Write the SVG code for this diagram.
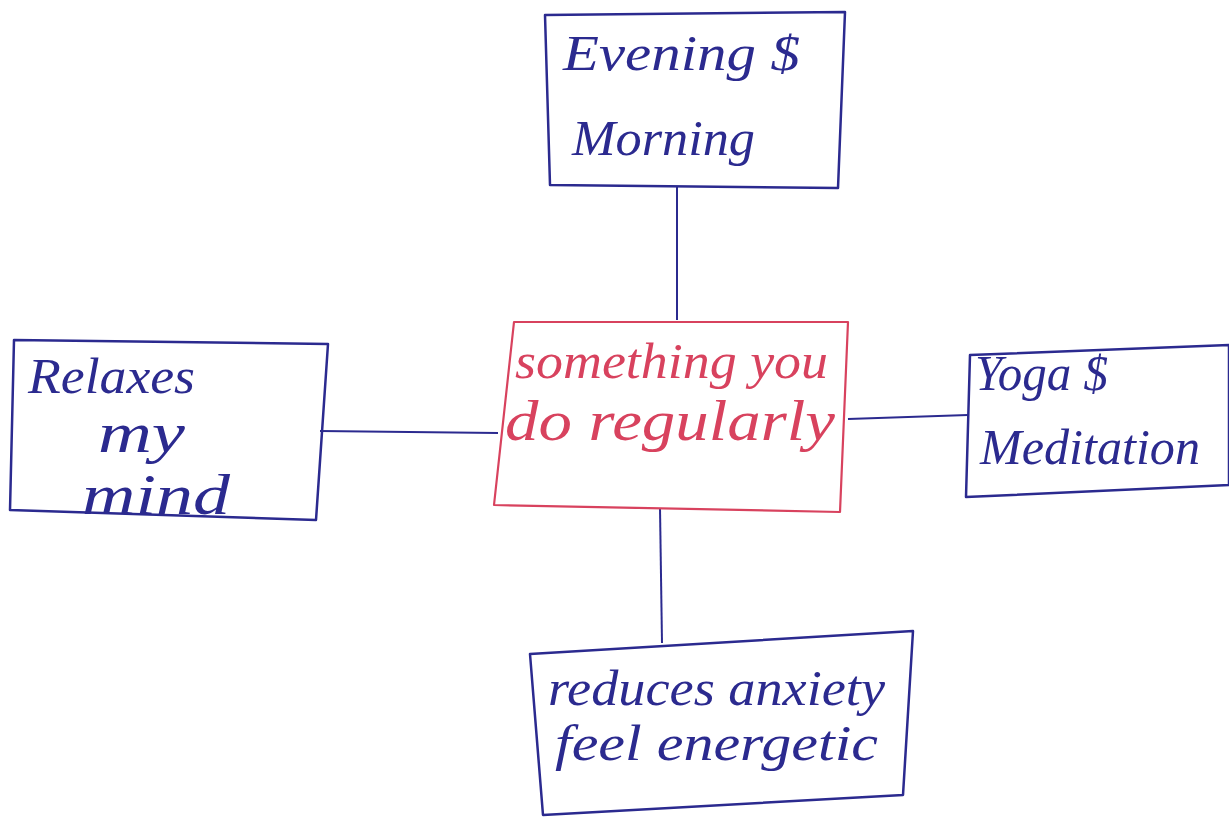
<svg xmlns="http://www.w3.org/2000/svg" width="1229" height="818" viewBox="0 0 1229 818">
<style>
.box{fill:none;stroke:#2b2a8f;stroke-width:2.5;stroke-linejoin:round}
.red{fill:none;stroke:#d8425e;stroke-width:2.2;stroke-linejoin:round}
.con{fill:none;stroke:#2b2a8f;stroke-width:2}
.t{font-family:"Liberation Serif",serif;font-style:italic;font-size:50px;fill:#2b2a8f}
.tr{font-family:"Liberation Serif",serif;font-style:italic;font-size:50px;fill:#d8425e}
.big{font-size:58px}
</style>
<rect width="1229" height="818" fill="#ffffff"/>
<g id="connectors">
<path class="con" d="M677 186 L677 320"/>
<path class="con" d="M320 431 L498 433"/>
<path class="con" d="M848 419 L968 415"/>
<path class="con" d="M660 508 L662 643"/>
</g>
<g id="node-top">
<polygon class="box" points="545,15 845,12 838,188 550,185"/>
<text class="t" x="563" y="70" textLength="237" lengthAdjust="spacingAndGlyphs">Evening $</text>
<text class="t" x="572" y="155" textLength="183" lengthAdjust="spacingAndGlyphs">Morning</text>
</g>
<g id="node-center">
<polygon class="red" points="514,322 848,322 840,512 494,505"/>
<text class="tr" x="515" y="378" textLength="313" lengthAdjust="spacingAndGlyphs">something you</text>
<text class="tr big" x="505" y="440" textLength="330" lengthAdjust="spacingAndGlyphs">do regularly</text>
</g>
<g id="node-left">
<polygon class="box" points="14,340 328,344 316,520 10,510"/>
<text class="t" x="28" y="393" textLength="167" lengthAdjust="spacingAndGlyphs">Relaxes</text>
<text class="t big" x="98" y="452" textLength="87" lengthAdjust="spacingAndGlyphs">my</text>
<text class="t big" x="82" y="514" textLength="148" lengthAdjust="spacingAndGlyphs">mind</text>
</g>
<g id="node-right">
<polygon class="box" points="970,355 1229,345 1229,485 966,497"/>
<text class="t" x="975" y="390" textLength="133" lengthAdjust="spacingAndGlyphs">Yoga $</text>
<text class="t" x="980" y="464" textLength="220" lengthAdjust="spacingAndGlyphs">Meditation</text>
</g>
<g id="node-bottom">
<polygon class="box" points="530,654 913,631 903,795 543,815"/>
<text class="t" x="548" y="705" textLength="337" lengthAdjust="spacingAndGlyphs">reduces anxiety</text>
<text class="t" x="555" y="760" textLength="323" lengthAdjust="spacingAndGlyphs">feel energetic</text>
</g>
</svg>
